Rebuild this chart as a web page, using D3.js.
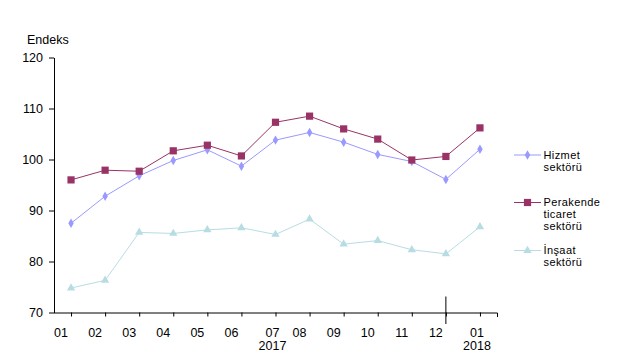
<!DOCTYPE html>
<html><head><meta charset="utf-8">
<script src="https://cdn.jsdelivr.net/npm/d3@7/dist/d3.min.js"></script>
<style>
body{margin:0;background:#fff;}
text{font-family:"Liberation Sans",Arial,sans-serif;fill:#000;}
</style></head>
<body>
<svg id="chart" width="626" height="361"></svg>
<script>
const categories = ["01","02","03","04","05","06","07","08","09","10","11","12","01b"];
const monthLabels = ["01","02","03","04","05","06","07","08","09","10","11","12","01"];
const yearLabels = ["","","","","","","2017","","","","","","2018"];
const hizmet = [87.5,92.8,96.8,99.8,101.9,98.7,103.8,105.3,103.4,101.0,99.6,96.1,102.0];
const perakende = [96.0,97.9,97.7,101.7,102.8,100.7,107.3,108.5,106.0,104.0,99.9,100.6,106.2];
const insaat = [74.8,76.3,85.7,85.5,86.2,86.6,85.3,88.3,83.4,84.1,82.3,81.5,86.8];
const yTicks = [70,80,90,100,110,120];

const svg = d3.select("#chart");
const x = d3.scalePoint().domain(categories).range([54,497]).padding(0.5);
const y = d3.scaleLinear().domain([70,120]).range([312.5,57.5]);

// y axis
const ya = svg.append("g").attr("transform","translate(54,0)")
  .call(d3.axisLeft(y).tickValues(yTicks).tickSize(5).tickPadding(6).tickSizeOuter(0));
ya.select(".domain").attr("stroke","#000");
ya.selectAll(".tick line").attr("stroke","#000");
ya.selectAll(".tick text").attr("font-size","12.5px").attr("font-family","Liberation Sans, Arial, sans-serif").attr("fill","#000");

// x axis
const xa = svg.append("g").attr("transform","translate(0,312.5)")
  .call(d3.axisBottom(x).tickSize(4).tickFormat("").tickSizeOuter(0));
xa.select(".domain").attr("stroke","#000").attr("d","M54,0.5H497.5V4.5");
xa.selectAll(".tick line").attr("stroke","#000");
// long separator tick at 12
svg.append("line").attr("x1",x("12")).attr("x2",x("12")).attr("y1",296.5).attr("y2",324)
  .attr("stroke","#000").attr("stroke-width",1);

categories.forEach((c,i)=>{
  const dx = yearLabels[i] ? -3 : -10;
  svg.append("text").attr("x",x(c)+dx).attr("y",336.5).attr("text-anchor","middle")
    .attr("font-size","12.5px").text(monthLabels[i]);
  if(yearLabels[i]) svg.append("text").attr("x",x(c)+dx).attr("y",349.5).attr("text-anchor","middle")
    .attr("font-size","12.5px").text(yearLabels[i]);
});

svg.append("text").attr("x",27).attr("y",43.5).attr("font-size","12.5px").text("Endeks");

const series = [
  {name:["Hizmet","sektörü"], data:hizmet, color:"#9999ff", marker:d3.symbolDiamond, size:26, ly:155},
  {name:["Perakende","ticaret","sektörü"], data:perakende, color:"#993366", marker:d3.symbolSquare, size:52, ly:202.5},
  {name:["İnşaat","sektörü"], data:insaat, color:"#b7dde3", marker:d3.symbolTriangle, size:30, ly:250.5}
];

const line = d3.line().x((d,i)=>x(categories[i])).y(d=>y(d));
// draw insaat first, then hizmet, then perakende on top
[2,0,1].forEach(k=>{
  const s = series[k];
  svg.append("path").datum(s.data).attr("d",line).attr("fill","none")
    .attr("stroke",s.color).attr("stroke-width",1);
  svg.selectAll(null).data(s.data).enter().append("path")
    .attr("transform",(d,i)=>`translate(${x(categories[i])},${y(d)})`)
    .attr("d",d3.symbol().type(s.marker).size(s.size)).attr("fill",s.color);
});

// legend
series.forEach(s=>{
  svg.append("line").attr("x1",514).attr("x2",541).attr("y1",s.ly).attr("y2",s.ly)
    .attr("stroke",s.color).attr("stroke-width",1);
  svg.append("path").attr("transform",`translate(527.5,${s.ly})`)
    .attr("d",d3.symbol().type(s.marker).size(s.size)).attr("fill",s.color);
  s.name.forEach((t,j)=>{
    svg.append("text").attr("x",543.5).attr("y",s.ly+3.5+j*12).attr("font-size","11px")
      .attr("letter-spacing","0.4px").text(t);
  });
});
</script>
</body></html>
